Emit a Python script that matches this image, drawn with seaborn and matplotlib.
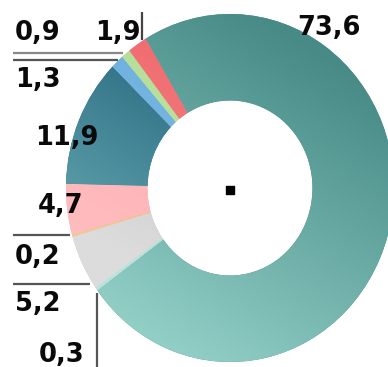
import numpy as np
import matplotlib
matplotlib.use("Agg")
import matplotlib.pyplot as plt
import seaborn as sns

# values in the order they are drawn (clockwise from the big slice)
labels = ["73,6", "0,3", "5,2", "0,2", "4,7", "11,9", "1,3", "0,9", "1,9"]
values = [73.6, 0.3, 5.2, 0.2, 4.7, 11.9, 1.3, 0.9, 1.9]
# (light, dark) colour of each slice
light_colors = ["#9ad7ce", "#b9e3dc", "#dcdcdc", "#f3c792", "#ffbcbe", "#5ea2ab", "#85c0e8", "#c9e8ae", "#f58a8c"]
dark_colors = ["#478a86", "#a9d9d2", "#c6c6c6", "#eeb87f", "#fcaeb1", "#2e6d84", "#6fb0de", "#b5dd98", "#f06e72"]

sns.set_theme(style="white")
plt.rcParams["font.family"] = ["DejaVu Sans"]

W, H = 388, 367
CX, CY, RX, RY = 230, 188, 164, 174


def P(x, y):
    # pixel position -> data position
    return (x - CX) / RX, (CY - y) / RY


fig = plt.figure(figsize=(W / 100, H / 100), dpi=100)
ax = fig.add_axes([0, 0, 1, 1])

wedges, _ = ax.pie(values, startangle=121, counterclock=False,
                   colors=dark_colors, radius=1.0,
                   wedgeprops=dict(width=0.497, linewidth=0))

# linear gradient inside each wedge (light lower-left -> dark top)
g = np.linspace(-1.6, 1.6, 400)
X, Y = np.meshgrid(g, g)
T = 0.5 * X + 0.87 * Y
T = (T - T.min()) / (T.max() - T.min())
for w, c1, c2 in zip(wedges, light_colors, dark_colors):
    cmap = sns.blend_palette([c1, c2], as_cmap=True)
    if w.theta2 - w.theta1 > 100:
        norm = plt.Normalize(0.22, 0.72)
    else:
        norm = plt.Normalize(0.35, 0.6)
    im = ax.imshow(T, extent=(-1.6, 1.6, -1.6, 1.6), origin="lower",
                   cmap=cmap, norm=norm, interpolation="bilinear",
                   aspect="auto", zorder=w.get_zorder())
    im.set_clip_path(w)

# centre marker
ax.scatter([0], [P(0, 190)[1]], marker="s", s=30, color="black", zorder=5)

# labels: (text, left x px, baseline y px)
label_pos = {
    "73,6": (297, 35),
    "0,9": (15, 40),
    "1,9": (95, 40),
    "1,3": (15, 87),
    "11,9": (35, 145),
    "4,7": (38, 213),
    "0,2": (15, 264),
    "5,2": (15, 311),
    "0,3": (39, 362),
}
for lab, (x, y) in label_pos.items():
    ax.text(*P(x, y), lab, ha="left", va="baseline", fontsize=18.5,
            fontweight="bold", color="#0a0a0a", zorder=6)

# leader lines
lines = [
    ((142, 12), (142, 40), "#444444"),
    ((13, 53), (123, 53), "#888888"),
    ((13, 60), (118, 60), "#555555"),
    ((13, 235), (70, 235), "#555555"),
    ((13, 284), (90, 284), "#555555"),
    ((97, 293), (97, 367), "#555555"),
]
for a, b, c in lines:
    (x0, y0), (x1, y1) = P(*a), P(*b)
    ax.plot([x0, x1], [y0, y1], color=c, lw=1.6, zorder=4,
            solid_capstyle="butt")

ax.set_aspect("auto")
ax.set_xlim(P(0, 0)[0], P(W, 0)[0])
ax.set_ylim(P(0, H)[1], P(0, 0)[1])
ax.axis("off")

fig.savefig("out.png", dpi=100)
